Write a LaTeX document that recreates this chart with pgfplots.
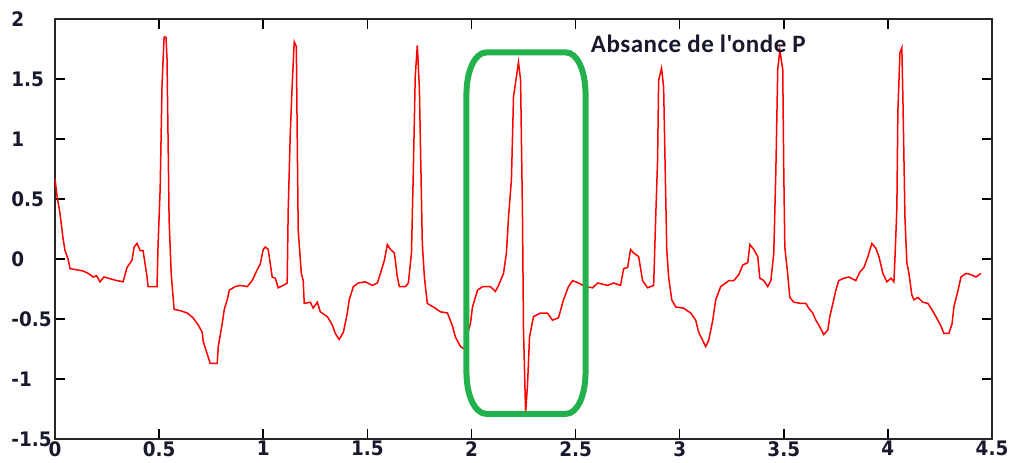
\documentclass[border=0pt]{standalone}
\usepackage{fontspec}
\usepackage{pgfplots}
\pgfplotsset{compat=1.18}
\setmainfont{DejaVu Sans}[FakeStretch=0.92]
\newfontfamily\annfont{Carlito}[LetterSpace=2]
\definecolor{ecgred}{RGB}{255,0,0}
\definecolor{boxgreen}{RGB}{34,177,76}
\definecolor{lab}{RGB}{25,25,45}

\pgfplotstableread{
x y
0 0.67
0.010 0.52
0.024 0.38
0.038 0.18
0.048 0.07
0.063 0.00
0.072 -0.08
0.135 -0.10
0.160 -0.12
0.183 -0.15
0.200 -0.14
0.216 -0.19
0.235 -0.15
0.255 -0.16
0.275 -0.17
0.298 -0.18
0.327 -0.19
0.346 -0.07
0.370 -0.01
0.380 0.10
0.394 0.13
0.409 0.07
0.423 0.07
0.442 -0.15
0.447 -0.23
0.490 -0.23
0.495 0.12
0.505 0.58
0.514 1.45
0.524 1.85
0.533 1.85
0.538 1.67
0.548 0.33
0.558 -0.12
0.572 -0.42
0.601 -0.43
0.635 -0.45
0.663 -0.49
0.688 -0.55
0.707 -0.61
0.712 -0.69
0.731 -0.79
0.745 -0.87
0.779 -0.87
0.784 -0.73
0.803 -0.54
0.813 -0.42
0.827 -0.34
0.837 -0.26
0.865 -0.23
0.889 -0.22
0.923 -0.23
0.947 -0.18
0.971 -0.09
0.986 -0.04
1.000 0.08
1.010 0.10
1.024 0.08
1.043 -0.15
1.058 -0.16
1.072 -0.24
1.096 -0.22
1.115 -0.20
1.120 0.41
1.130 1.05
1.139 1.45
1.149 1.81
1.159 1.77
1.163 1.07
1.168 0.24
1.183 -0.12
1.192 -0.18
1.197 -0.37
1.226 -0.36
1.240 -0.41
1.260 -0.36
1.274 -0.44
1.308 -0.48
1.332 -0.55
1.346 -0.62
1.365 -0.67
1.385 -0.61
1.404 -0.45
1.413 -0.34
1.433 -0.23
1.457 -0.20
1.490 -0.19
1.524 -0.22
1.548 -0.20
1.563 -0.12
1.582 -0.01
1.596 0.12
1.611 0.08
1.630 0.05
1.644 -0.15
1.654 -0.23
1.683 -0.23
1.697 -0.20
1.712 0.05
1.721 0.74
1.730 1.52
1.740 1.78
1.750 1.42
1.764 0.13
1.774 -0.15
1.788 -0.37
1.817 -0.40
1.851 -0.44
1.885 -0.45
1.909 -0.56
1.923 -0.65
1.947 -0.73
1.966 -0.75
1.985 -0.60
1.995 -0.54
2.005 -0.40
2.029 -0.26
2.053 -0.23
2.091 -0.23
2.115 -0.27
2.130 -0.22
2.154 -0.12
2.168 0.05
2.178 0.35
2.192 0.66
2.202 1.35
2.216 1.52
2.226 1.64
2.236 1.49
2.245 0.38
2.250 -0.59
2.260 -1.28
2.269 -1.06
2.279 -0.65
2.298 -0.48
2.332 -0.45
2.365 -0.45
2.389 -0.51
2.418 -0.49
2.442 -0.34
2.466 -0.23
2.486 -0.18
2.514 -0.20
2.548 -0.23
2.582 -0.24
2.606 -0.20
2.654 -0.22
2.683 -0.20
2.716 -0.22
2.731 -0.08
2.750 -0.07
2.764 0.08
2.779 0.05
2.803 0.02
2.822 -0.18
2.846 -0.24
2.875 -0.22
2.885 0.35
2.894 0.83
2.899 1.49
2.913 1.59
2.923 1.43
2.928 0.97
2.938 0.08
2.947 -0.15
2.962 -0.34
2.981 -0.40
3.019 -0.41
3.053 -0.45
3.077 -0.51
3.091 -0.61
3.111 -0.68
3.125 -0.73
3.139 -0.68
3.159 -0.51
3.173 -0.34
3.197 -0.23
3.221 -0.20
3.236 -0.18
3.260 -0.18
3.284 -0.13
3.303 -0.05
3.327 -0.03
3.337 0.12
3.356 0.08
3.375 0.02
3.385 -0.16
3.404 -0.18
3.423 -0.23
3.438 -0.18
3.452 0.05
3.462 0.74
3.471 1.58
3.481 1.74
3.495 1.58
3.500 0.73
3.505 0.10
3.519 -0.13
3.529 -0.32
3.548 -0.36
3.582 -0.37
3.606 -0.37
3.620 -0.41
3.639 -0.45
3.654 -0.51
3.668 -0.55
3.692 -0.63
3.712 -0.59
3.721 -0.48
3.736 -0.37
3.750 -0.26
3.764 -0.18
3.788 -0.16
3.813 -0.15
3.846 -0.18
3.865 -0.11
3.885 -0.07
3.904 0.02
3.923 0.13
3.942 0.09
3.957 0.02
3.976 -0.12
3.995 -0.19
4.015 -0.16
4.029 -0.19
4.034 0.01
4.043 0.42
4.048 1.24
4.058 1.72
4.067 1.76
4.072 1.35
4.082 0.34
4.091 -0.03
4.101 -0.12
4.115 -0.30
4.125 -0.34
4.144 -0.32
4.168 -0.36
4.192 -0.37
4.207 -0.41
4.221 -0.45
4.240 -0.51
4.255 -0.56
4.269 -0.62
4.293 -0.62
4.308 -0.54
4.317 -0.40
4.337 -0.26
4.351 -0.15
4.375 -0.12
4.399 -0.13
4.423 -0.15
4.447 -0.12
}\ecgdata

\begin{document}
\begin{tikzpicture}
\begin{axis}[
  at={(0,0)}, anchor=south west,
  width=468.5pt, height=210pt, scale only axis,
  xmin=0, xmax=4.5, ymin=-1.5, ymax=2,
  xtick={0,0.5,1,1.5,2,2.5,3,3.5,4,4.5},
  ytick={-1.5,-1,-0.5,0,0.5,1,1.5,2},
  tick align=inside, major tick length=5pt,
  tick style={black, line width=0.8pt},
  axis line style={line width=1pt, black!85},
  /pgf/number format/assume math mode=true,
  xticklabel style={font=\bfseries\fontsize{10}{12}\selectfont, text=lab, inner sep=1pt, anchor=north},
  yticklabel style={font=\bfseries\fontsize{10}{12}\selectfont, text=lab, inner sep=0pt, anchor=west, xshift=-22pt},
]
\addplot[ecgred, line width=0.75pt, no markers] table[x=x, y=y] {\ecgdata};
\draw[boxgreen, line width=3pt]
  (axis cs:1.976,1.37) -- (axis cs:1.976,-0.94)
  .. controls (axis cs:1.976,-1.15) and (axis cs:2.02,-1.29) .. (axis cs:2.07,-1.29)
  -- (axis cs:2.455,-1.29)
  .. controls (axis cs:2.505,-1.29) and (axis cs:2.548,-1.15) .. (axis cs:2.548,-0.94)
  -- (axis cs:2.548,1.37)
  .. controls (axis cs:2.548,1.58) and (axis cs:2.505,1.721) .. (axis cs:2.455,1.721)
  -- (axis cs:2.07,1.721)
  .. controls (axis cs:2.02,1.721) and (axis cs:1.976,1.58) .. cycle;
\node[anchor=west, inner sep=0pt, text=lab, font=\annfont\bfseries\fontsize{12.5}{14}\selectfont] at (axis cs:2.572,1.79) {Absance de l'onde P};
\end{axis}
\pgfresetboundingbox
\path[use as bounding box] (-27.5pt,-11.5pt) rectangle (480.5pt,219.5pt);
\end{tikzpicture}
\end{document}
